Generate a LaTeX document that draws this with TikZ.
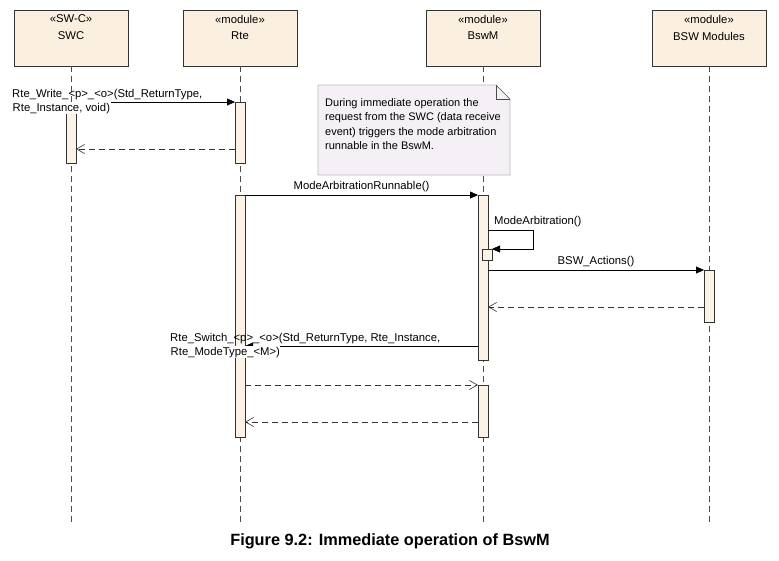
\documentclass[tikz,border=0pt]{standalone}
\usepackage{fontspec}
\setmainfont{Liberation Sans}
\usetikzlibrary{arrows.meta}
\definecolor{boxc}{HTML}{FBF0E0}
\definecolor{actc}{HTML}{FCF3E6}
\definecolor{notec}{HTML}{F5F0F5}
\begin{document}
\begin{tikzpicture}[x=1pt,y=-1pt,font=\fontsize{11.3}{14}\selectfont,
  head/.style={draw=black!80,fill=boxc,minimum width=114pt,minimum height=56pt,inner sep=0pt},
  life/.style={draw=black!70,dash pattern=on 6pt off 4pt},
  act/.style={draw=black!80,fill=actc},
  call/.style={draw=black,-{Triangle[length=8pt,width=7pt]}},
  ret/.style={draw=black!80,dash pattern=on 6pt off 4pt,-{Straight Barb[length=8pt,width=9pt,line width=0.6pt]}},
  lbl/.style={inner sep=0pt,align=left}]
\useasboundingbox (0,0) rectangle (779,560);
\foreach \n/\x/\s/\t in {swc/71/«SW-C»/SWC, rte/240/«module»/Rte, bswm/483/«module»/BswM, bsw/709/«module»/BSW Modules}{
  \node[head] (\n) at (\x,38) {};
  \node[inner sep=0pt] at (\x,19) {\s};
  \node[inner sep=0pt] at (\x,36) {\t};
  \coordinate (\n end) at (\x,525);
  \draw[life] (\n.south) -- (\n end);
}
% activations
\draw[act] (66,113) rectangle (76,163);
\draw[act] (235,102) rectangle (245,163);
\draw[act] (235,195) rectangle (245,437);
\draw[act] (478,195) rectangle (488,360);
\draw[act] (482,249) rectangle (492,260);
\draw[act] (478,385) rectangle (488,437);
\draw[act] (704,270) rectangle (714,322);
% note
\draw[draw=black!70,fill=notec] (318,85) -- (496,85) -- (510,99) -- (510,175) -- (318,175) -- cycle;
\draw[draw=black!70] (496,85) -- (496,99) -- (510,99);
\node[lbl,anchor=north west,font=\fontsize{11}{14.5}\selectfont] (note) at (325,98) {During immediate operation the\\request from the SWC (data receive\\event) triggers the mode arbitration\\runnable in the BswM.};
% messages
\coordinate (a1) at (71,102); \coordinate (b1) at (235,102);
\draw[call] (a1) -- (b1);
\node[lbl,anchor=base west] at (12,97) {Rte\_Write\_<p>\_<o>(Std\_ReturnType,};
\node[lbl,anchor=base west,fill=white,inner sep=0.5pt] at (12,111) {Rte\_Instance, void)};
\coordinate (a2) at (235,149); \coordinate (b2) at (76,149);
\draw[ret] (a2) -- (b2);
\coordinate (a3) at (245,195); \coordinate (b3) at (478,195);
\draw[call] (a3) -- node[above=2pt,inner sep=1pt]{ModeArbitrationRunnable()} (b3);
\coordinate (a4) at (488,230); \coordinate (b4) at (492,249);
\draw[call] (a4) -- (533,230) -- (533,249) -- (b4);
\node[lbl,anchor=south west] at (494,227) {ModeArbitration()};
\coordinate (a5) at (488,270); \coordinate (b5) at (704,270);
\draw[call] (a5) -- node[above=2pt,inner sep=1pt]{BSW\_Actions()} (b5);
\coordinate (a6) at (704,307); \coordinate (b6) at (488,307);
\draw[ret] (a6) -- (b6);
\coordinate (a7) at (478,346); \coordinate (b7) at (245,346);
\draw[call] (a7) -- (b7);
\node[lbl,anchor=base west] at (170,341) {Rte\_Switch\_<p>\_<o>(Std\_ReturnType, Rte\_Instance,};
\node[lbl,anchor=base west,fill=white,inner sep=0.5pt] at (170,355) {Rte\_ModeType\_<M>)};
\coordinate (a8) at (245,385); \coordinate (b8) at (478,385);
\draw[ret] (a8) -- (b8);
\coordinate (a9) at (478,422); \coordinate (b9) at (245,422);
\draw[ret] (a9) -- (b9);
\node[font=\fontsize{16.3}{19}\selectfont\bfseries] (cap) at (390,541) {Figure 9.2: Immediate operation of BswM};
\end{tikzpicture}
\end{document}
